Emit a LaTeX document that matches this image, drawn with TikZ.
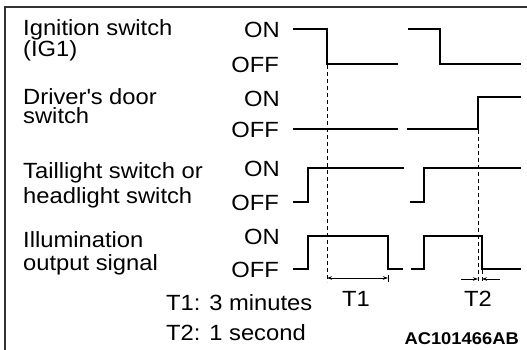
\documentclass[tikz,border=0pt]{standalone}
\usepackage{fontspec}
\setmainfont{Liberation Sans}[FakeStretch=1.08]
\usepackage{tikz}
\usetikzlibrary{arrows.meta}

\begin{document}
\begin{tikzpicture}[x=1pt,y=-1pt,
    every node/.style={inner sep=0pt, font=\fontsize{22}{20}\selectfont},
    signame/.style={anchor=base west, align=left, font=\fontsize{22}{#1}\selectfont},
    wave/.style={line width=2pt, line join=miter},
    guide/.style={line width=1pt, dash pattern=on 4pt off 3pt},
    dimline/.style={line width=0.8pt, >={Stealth[length=5pt,width=3.5pt]}}]
    \useasboundingbox (0,0) rectangle (527,350);
    % frame
    \draw[line width=1.4pt, black!80] (527,7) -- (5,7) -- (5,350);
    % signal names (base = last line)
    \node[signame=20.5] (ign) at (23,57) {Ignition switch\\(IG1)};
    \node[signame=19.5] (door) at (23,124) {Driver\textquotesingle s door\\switch};
    \node[signame=25] (tail) at (23,203) {Taillight switch or\\headlight switch};
    \node[signame=23] (illum) at (23,270) {Illumination\\output signal};
    % levels
    \node[anchor=east] (ignon) at (280,30) {ON};
    \node[anchor=east] (ignoff) at (279,65) {OFF};
    \node[anchor=east] (dooron) at (280,99) {ON};
    \node[anchor=east] (dooroff) at (279,130) {OFF};
    \node[anchor=east] (tailon) at (280,169) {ON};
    \node[anchor=east] (tailoff) at (279,203) {OFF};
    \node[anchor=east] (illumon) at (280,237) {ON};
    \node[anchor=east] (illumoff) at (279,270) {OFF};
    % waveforms
    \draw[wave] (293,29) -- (327,29) -- (327,64) -- (398,64);
    \draw[wave] (408,29) -- (440,29) -- (440,64) -- (521,64);
    \draw[wave] (293,129) -- (398,129);
    \draw[wave] (407,129) -- (478,129) -- (478,97) -- (521,97);
    \draw[wave] (293,202) -- (308,202) -- (308,168) -- (404,168);
    \draw[wave] (410,202) -- (424,202) -- (424,168) -- (521,168);
    \draw[wave] (293,269) -- (308,269) -- (308,236) -- (388,236) -- (388,269) -- (403,269);
    \draw[wave] (411,269) -- (424,269) -- (424,236) -- (482,236) -- (482,269) -- (521,269);
    % guides
    \draw[guide] (327,65) -- (327,282);
    \draw[guide] (478,130) -- (478,283);
    \draw[guide] (482,270) -- (482,283);
    \draw[line width=0.8pt] (388,275) -- (388,282);
    % times
    \draw[dimline, <->] (327,278) -- (388,278);
    \draw[dimline, ->] (461,279) -- (478,279);
    \draw[dimline, ->] (500,279) -- (482,279);
    \node (t1) at (356,299) {T1};
    \node (t2) at (478,299) {T2};
    \node[anchor=base west] (t1note) at (166,310) {T1: 3 minutes};
    \node[anchor=base west] (t2note) at (166,340) {T2: 1 second};
    \node[anchor=base east, font=\fontsize{17}{17}\selectfont\bfseries] (code) at (519,344) {AC101466AB};
\end{tikzpicture}
\end{document}
